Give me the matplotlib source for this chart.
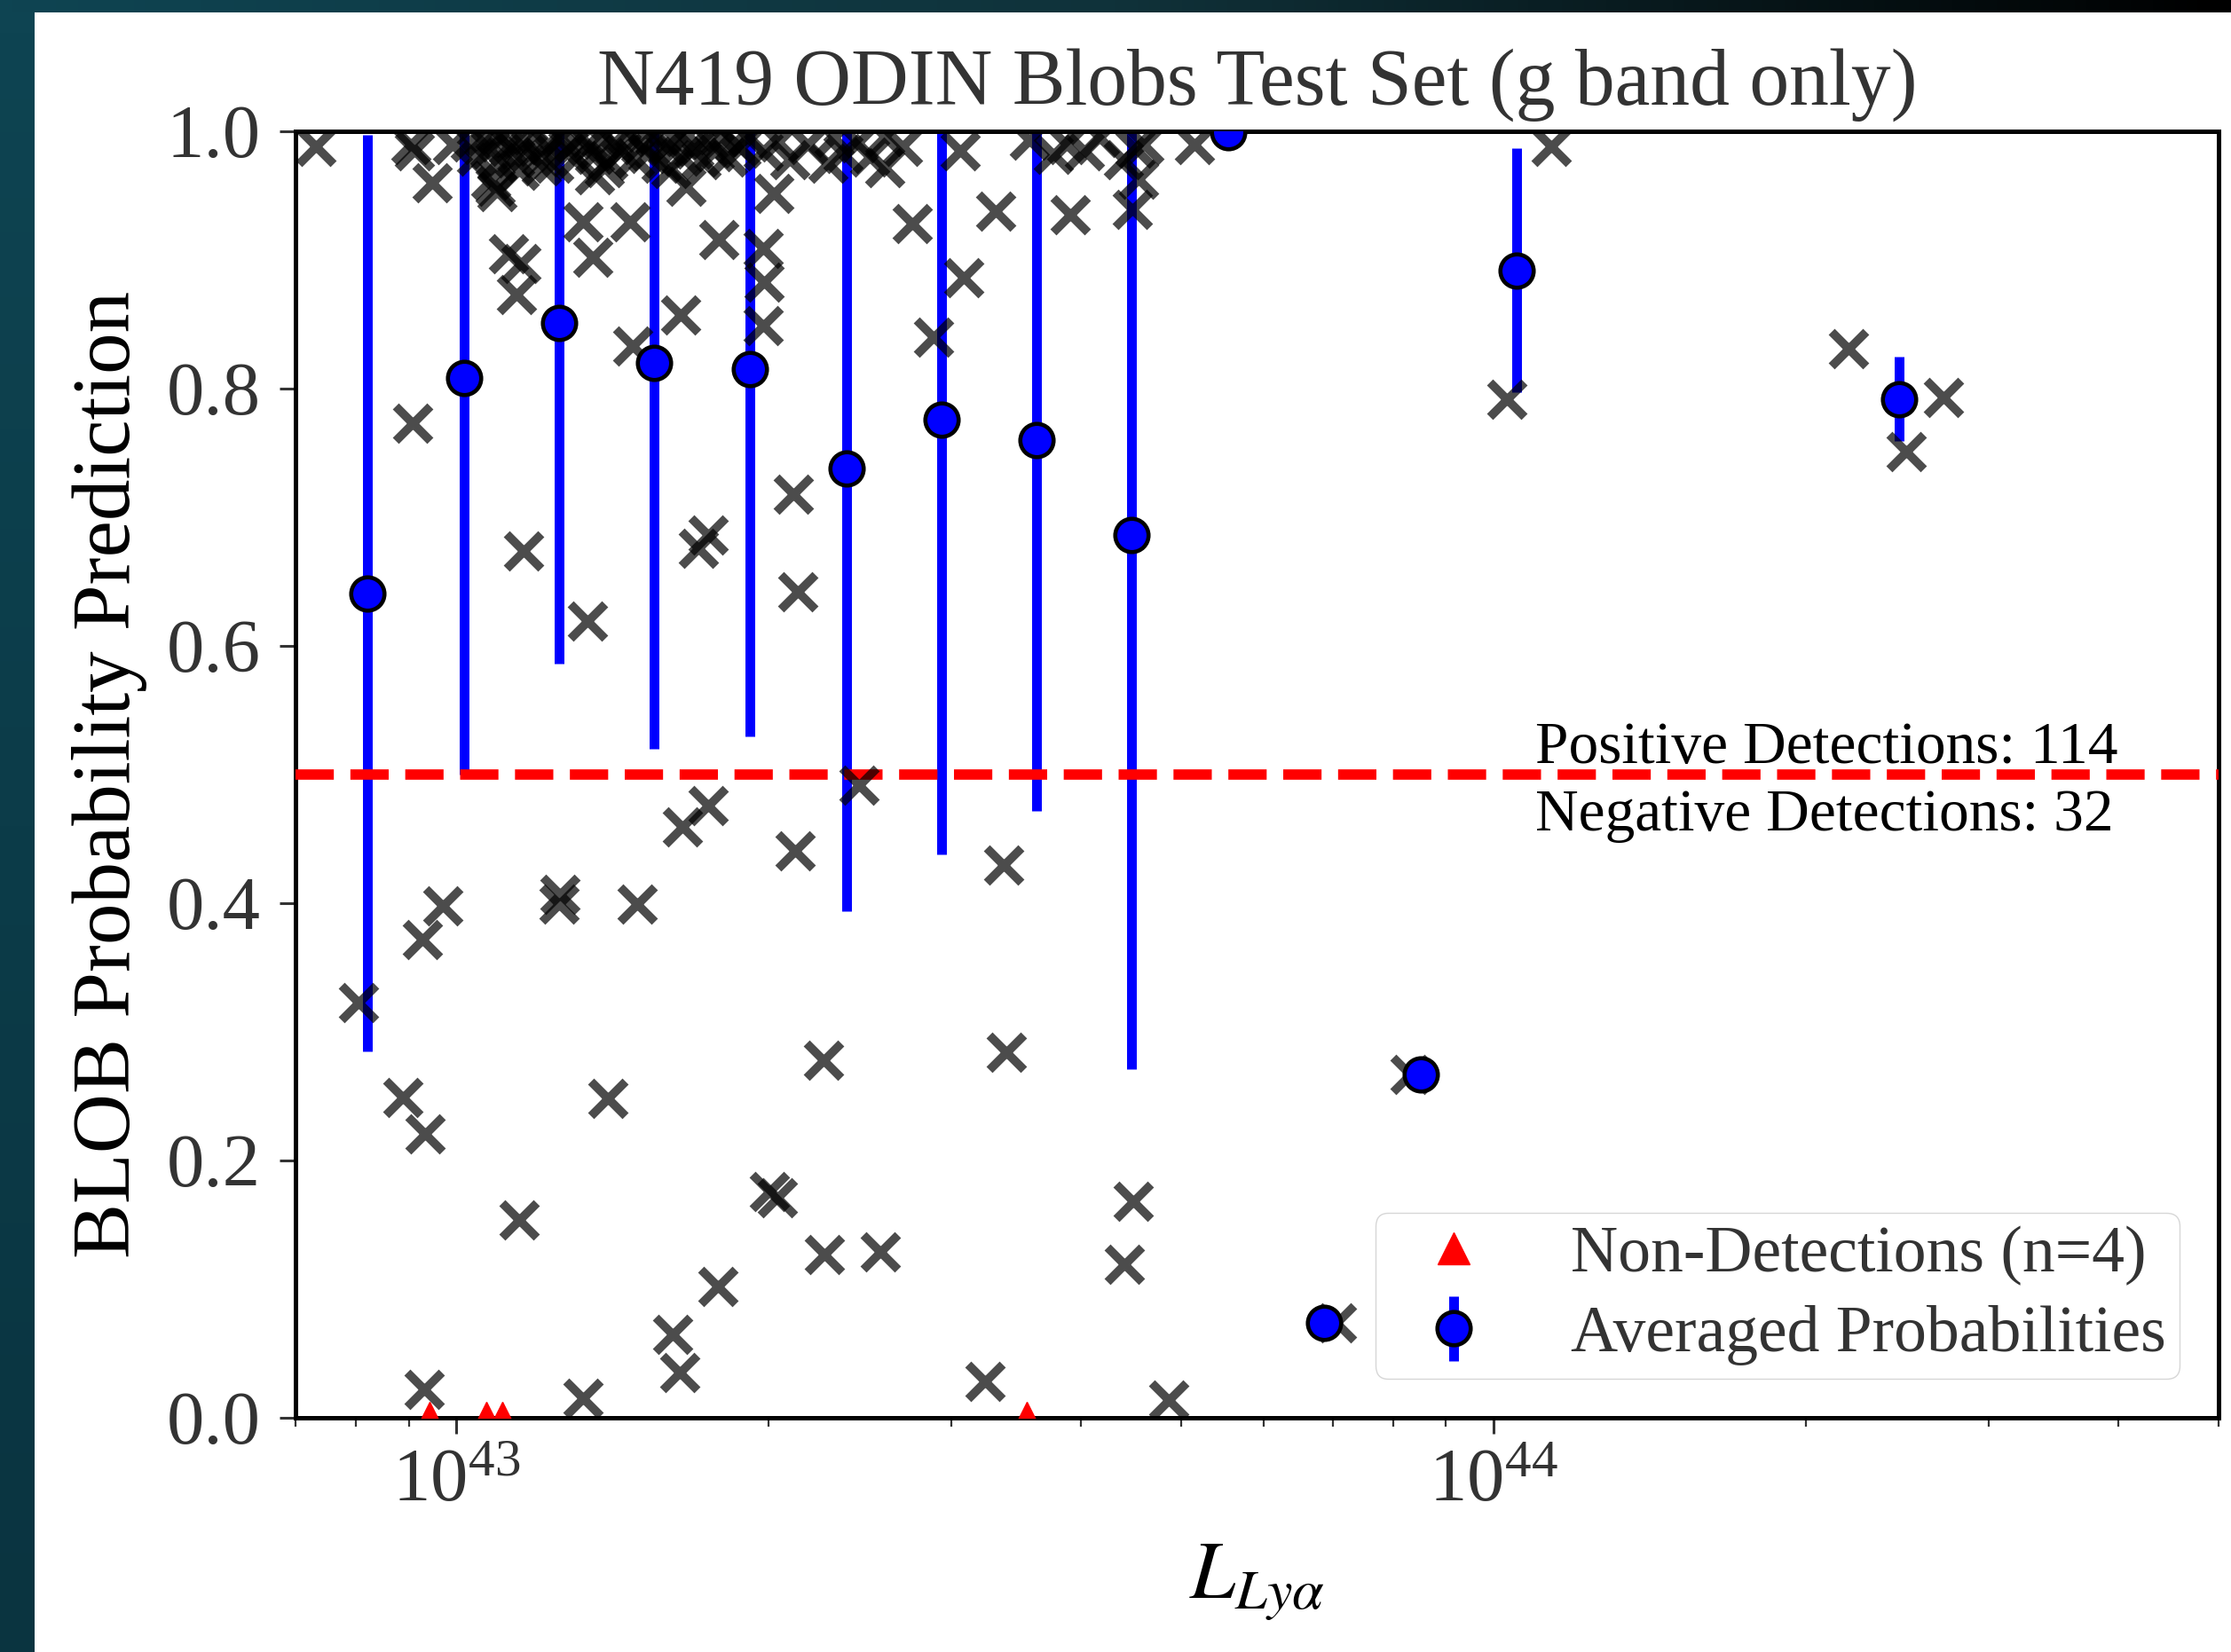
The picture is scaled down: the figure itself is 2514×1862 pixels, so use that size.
import numpy as np
import matplotlib
matplotlib.use('Agg')
from matplotlib import pyplot as plt
from matplotlib.colors import LinearSegmentedColormap

plt.rcParams['font.family'] = ['Liberation Serif', 'DejaVu Serif']
plt.rcParams['mathtext.fontset'] = 'stix'

# individual blob predictions, L_Lya in units of 1e43
lum_x = np.array([
    # below threshold
    0.805, 0.888, 0.934, 0.928, 0.970, 0.931, 1.150, 1.260, 1.256, 1.326,
    1.399, 1.494, 1.653, 1.750, 1.617, 1.643, 1.789, 2.004, 2.042, 2.121,
    2.259, 2.266, 2.564, 2.445, 3.373, 3.394, 3.236, 4.411, 4.495, 4.864,
    7.057, 8.315,
    # above threshold, scattered
    0.908, 0.949, 1.123, 1.155, 1.143, 1.161, 1.338, 1.325, 1.354, 1.470,
    1.479, 1.645, 1.359, 1.664, 1.790, 1.712, 1.750, 2.114, 2.134, 2.023,
    1.975, 1.982, 1.975, 2.750, 3.088, 3.310, 2.884, 3.060, 2.590, 3.910,
    4.490, 4.550, 4.510, 5.150, 10.30, 11.36, 21.98, 25.00, 27.14, 1.080,
    1.090, 1.095, 1.208, 0.733, 0.905, 0.912, 0.992,
    # top band
    1.975, 2.043, 2.096, 2.181, 2.281, 2.313, 2.359, 2.439, 2.502, 2.587,
    2.691, 3.566, 3.761, 3.880, 4.036, 4.174, 4.401, 4.606,
    1.032, 1.046, 1.063, 1.078, 1.095, 1.108, 1.123, 1.139, 1.157, 1.173,
    1.189, 1.208, 1.225, 1.242, 1.261, 1.282, 1.299, 1.320, 1.338, 1.359,
    1.378, 1.400, 1.419, 1.442, 1.462, 1.485, 1.506, 1.530, 1.554, 1.576,
    1.597, 1.623, 1.649, 1.672, 1.695, 1.722, 1.749, 1.773, 1.798, 1.826,
    1.855, 1.880, 1.907,
    1.150, 1.270, 1.390, 1.520, 1.610, 1.090,
])
prob_x = np.array([
    0.323, 0.249, 0.221, 0.372, 0.398, 0.022, 0.154, 0.407, 0.399, 0.015,
    0.248, 0.399, 0.459, 0.476, 0.065, 0.035, 0.102, 0.176, 0.171, 0.441,
    0.278, 0.127, 0.129, 0.492, 0.430, 0.284, 0.028, 0.119, 0.168, 0.014,
    0.074, 0.267,
    0.773, 0.960, 0.905, 0.897, 0.873, 0.674, 0.619, 0.930, 0.902, 0.930,
    0.833, 0.857, 0.966, 0.957, 0.916, 0.676, 0.686, 0.718, 0.642, 0.952,
    0.909, 0.883, 0.849, 0.928, 0.886, 0.938, 0.840, 0.985, 0.972, 0.935,
    0.939, 0.963, 0.987, 0.990, 0.792, 0.988, 0.831, 0.751, 0.793, 0.962,
    0.957, 0.953, 0.973, 0.988, 0.990, 0.985, 0.990,
    0.985, 0.992, 0.978, 0.990, 0.975, 0.995, 0.983, 0.991, 0.980, 0.996,
    0.988, 0.993, 0.982, 0.990, 0.985, 0.995, 0.978, 0.990,
    0.992, 0.981, 0.995, 0.986, 0.976, 0.997, 0.988, 0.979, 0.993, 0.984,
    0.997, 0.980, 0.990, 0.975, 0.995, 0.986, 0.978, 0.996, 0.989, 0.982,
    0.994, 0.977, 0.991, 0.985, 0.998, 0.979, 0.990, 0.983, 0.996, 0.975,
    0.988, 0.994, 0.981, 0.997, 0.986, 0.978, 0.993, 0.984, 0.996, 0.980,
    0.991, 0.987, 0.995,
    0.970, 0.999, 0.972, 0.999, 0.971, 0.999,
])

# binned averages
lum_avg = np.array([0.821, 1.017, 1.256, 1.552, 1.918, 2.377, 2.937, 3.626,
                    4.481, 5.552, 6.86, 8.501, 10.53, 24.61])
prob_avg = np.array([0.641, 0.808, 0.851, 0.820, 0.815, 0.738, 0.776, 0.760,
                     0.686, 0.999, 0.074, 0.267, 0.892, 0.792])
err_avg = np.array([0.356, 0.308, 0.265, 0.300, 0.285, 0.344, 0.338, 0.288,
                    0.415, 0.0, 0.0, 0.0, 0.095, 0.033])

# non-detections
lum_nd = np.array([0.943, 1.069, 1.108, 3.545])
prob_nd = np.array([0.0, 0.0, 0.0, 0.0])

n_pos = 114
n_neg = 32

W, H = 2514, 1862
fig = plt.figure(figsize=(W / 100, H / 100), dpi=100)
fig.patch.set_facecolor('white')

# screenshot border
left = fig.add_axes([0, 0, 39 / W, 1])
left.imshow(np.linspace(0, 1, 50).reshape(-1, 1), aspect='auto',
            cmap=LinearSegmentedColormap.from_list('l', ['#0e4452', '#0a3440']))
left.axis('off')
top = fig.add_axes([0, 1 - 14 / H, 1, 14 / H])
top.imshow(np.linspace(0, 1, 200).reshape(1, -1), aspect='auto',
           cmap=LinearSegmentedColormap.from_list('t', ['#0e4452', '#10323a', '#000000']))
top.axis('off')

ax = fig.add_axes([333 / W, 1 - 1598 / H, (2500 - 333) / W, (1598 - 148) / H])

ax.scatter(lum_x * 1e43, prob_x, marker='x', s=28 ** 2, linewidths=7,
           color='black', alpha=0.7, zorder=4)

eb = ax.errorbar(lum_avg * 1e43, prob_avg, yerr=err_avg, fmt='o', color='blue',
                 ms=27, mec='black', mew=3.3, elinewidth=7.9,
                 label='Averaged Probabilities', zorder=2)
eb.lines[0].set_zorder(5)

nd, = ax.plot(lum_nd * 1e43, prob_nd, '^', color='red', ms=26, ls='none',
              label='Non-Detections (n=4)', zorder=3)

ax.axhline(0.5, color='red', ls='--', lw=8.4, zorder=3)

ax.text(1.097e44, 0.509, f'Positive Detections: {n_pos}', fontsize=48.5,
        color='black', va='baseline', ha='left')
ax.text(1.097e44, 0.489, f'Negative Detections: {n_neg}', fontsize=48.5,
        color='black', va='top', ha='left')

ax.set_xscale('log')
ax.set_xlim(7e42, 5e44)
ax.set_ylim(0, 1)
ax.set_yticks([0, 0.2, 0.4, 0.6, 0.8, 1.0])

ax.set_title('N419 ODIN Blobs Test Set (g band only)', fontsize=64.5,
             color='#333333', pad=22)
ax.set_ylabel('BLOB Probability Prediction', fontsize=67, color='black', labelpad=16)
ax.set_xlabel(r'$L_{Ly\alpha}$', fontsize=66, color='black', labelpad=20)

for s in ax.spines.values():
    s.set_linewidth(3.6)
ax.tick_params(axis='both', which='major', labelsize=61, labelcolor='#333333',
               color='#333333', length=13, width=2.2, pad=12)
ax.tick_params(axis='x', which='minor', length=7, width=1.6, color='#333333')
ax.tick_params(axis='y', which='major', pad=15)

leg = ax.legend(handles=[nd, eb],
                labels=['Non-Detections (n=4)', 'Averaged Probabilities'],
                loc='lower right', fontsize=53, frameon=True, fancybox=True,
                edgecolor='0.8', borderaxespad=0.6, borderpad=0.2,
                labelspacing=0.3)
for t in leg.get_texts():
    t.set_color('#333333')

fig.savefig('out.png', dpi=100)
